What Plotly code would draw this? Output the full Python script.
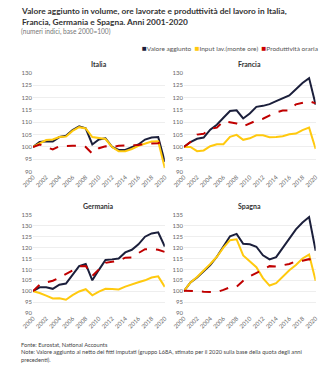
import plotly.graph_objects as go

years = list(range(2000, 2021))

it_va = [100, 102, 102.3, 102.2, 104, 104.5, 106.8, 108.3, 107.5, 101, 103, 103.5, 100, 98.8, 98.8, 99.8, 101, 103, 103.8, 104, 94]
it_in = [100, 101.5, 102.8, 103, 104, 104.2, 106.5, 108, 107.5, 104, 103.5, 103.2, 100, 98.3, 98.3, 99.2, 100.5, 101.5, 102.2, 102.3, 91.5]
it_pr = [100, 101, 100, 99, 100.3, 100.5, 100.5, 100.5, 100, 97.3, 99.5, 100.3, 99.8, 100.5, 100.5, 100.7, 100.8, 101.3, 101.3, 101.5, 102.8]

fr_va = [100, 102, 103.3, 103.8, 107, 109, 111.8, 114.5, 114.8, 111.5, 113.5, 116.2, 116.6, 117.3, 118.5, 119.7, 120.8, 123.3, 125.8, 127.8, 117]
fr_in = [100, 100, 98.3, 98.6, 100.3, 101.1, 101.1, 104.1, 104.9, 102.9, 103.5, 104.7, 104.7, 103.9, 104.0, 104.3, 105.1, 105.4, 106.8, 107.8, 99.2]
fr_pr = [100, 102, 105, 105.3, 107.3, 107.8, 110.4, 110, 109.5, 108.3, 109.6, 110.7, 111.4, 112.8, 114.0, 114.7, 114.8, 117.2, 117.9, 118.5, 117.6]

de_va = [100, 101.8, 101.8, 101.1, 103, 103.5, 107.5, 111.5, 112.5, 105, 109.8, 114.3, 114.6, 115, 117.8, 119, 121.5, 125, 126.5, 127, 120.5]
de_in = [100, 99.2, 98, 96.7, 96.8, 96.1, 98.2, 99.9, 100.9, 98.1, 99.8, 101.1, 101, 100.8, 102.1, 103.2, 104.1, 105, 106.3, 106.8, 102]
de_pr = [100, 103, 104, 104.8, 106.2, 107.8, 109.5, 111.4, 111.6, 107, 110, 113, 113.5, 114, 115.4, 115.5, 117.5, 119.3, 119.3, 119, 118]

es_va = [100, 104, 106.3, 109, 112, 115.8, 120.5, 125.2, 126.3, 121.8, 121.5, 120.4, 116.5, 114.6, 115.6, 120, 124, 128.4, 131.5, 134, 118.5]
es_in = [100, 104, 106.5, 109.3, 112.5, 115.8, 120, 123.4, 123.8, 116.4, 113.7, 111, 106, 102.6, 103.7, 106.8, 109.6, 112, 115, 116.8, 104.8]
es_pr = [100.2, 100.2, 100, 99.8, 99.6, 99.6, 100.6, 101.8, 102, 104.8, 106.8, 108.4, 110.2, 111.5, 111.3, 111.8, 112.5, 113.8, 114, 114.7, 113.5]

countries = ["Italia", "Francia", "Germania", "Spagna"]
series_names = ["Valore aggiunto", "Input lav.(monte ore)", "Produttività oraria"]
data = [(it_va, it_in, it_pr), (fr_va, fr_in, fr_pr), (de_va, de_in, de_pr), (es_va, es_in, es_pr)]
x_ticks = list(range(2000, 2021, 2))

NAVY = "#1b1f3b"
YELLOW = "#ffc90e"
RED = "#c00000"
colors = [NAVY, YELLOW, RED]
legend_colors = [NAVY, "#ffc90e", "#cc0000"]
dashes = ["solid", "solid", "dash"]

W, H = 333, 368
FONT = "Lato"

fig = go.Figure()
for i, (c, ser) in enumerate(zip(countries, data)):
    ax = "" if i == 0 else str(i + 1)
    for j, vals in enumerate(ser):
        fig.add_trace(go.Scatter(x=years, y=vals, mode="lines", name=series_names[j],
                                 line=dict(color=colors[j], width=2, dash=dashes[j]),
                                 xaxis="x" + ax, yaxis="y" + ax, showlegend=False,
                                 hoverinfo="skip"))

def px_x(p):
    return p / W

def px_y(p):
    return 1 - p / H

xdoms = [(22, 160), (180, 318), (22, 160), (180, 318)]
ydoms = [(70, 171), (70, 171), (215, 315), (215, 315)]
yranges = [(90, 130), (90, 130), (90, 135), (90, 135)]

tickfont = dict(family=FONT, size=6, color="#666666")
layout = dict(
    width=W, height=H, margin=dict(l=0, r=0, t=0, b=0),
    paper_bgcolor="white", plot_bgcolor="white",
    font=dict(family=FONT, color="#333333"),
    showlegend=False,
)
for i in range(4):
    ax = "" if i == 0 else str(i + 1)
    layout["xaxis" + ax] = dict(domain=[px_x(xdoms[i][0]), px_x(xdoms[i][1])],
                                range=[2000, 2020], tickvals=x_ticks, tickangle=-45,
                                tickfont=tickfont, showgrid=False, zeroline=False,
                                anchor="y" + ax, ticks="", showline=False, fixedrange=True)
    layout["yaxis" + ax] = dict(domain=[px_y(ydoms[i][1]), px_y(ydoms[i][0])],
                                range=list(yranges[i]), dtick=5,
                                tickfont=tickfont, showgrid=True, gridcolor="#eeeeee",
                                gridwidth=1, zeroline=False, anchor="x" + ax,
                                ticks="", showline=False, fixedrange=True)
fig.update_layout(**layout)

ann = []
for i, c in enumerate(countries):
    xc = (xdoms[i][0] + xdoms[i][1]) / 2
    ann.append(dict(text="<b>" + c + "</b>", x=px_x(xc), y=px_y(ydoms[i][0] - 9),
                    xref="paper", yref="paper", showarrow=False, xanchor="center",
                    yanchor="middle", font=dict(family=FONT, size=7, color="#333333")))

legend_txt = "&nbsp;&nbsp;".join(
    "<span style='color:%s;font-size:8px'>■</span>%s" % (col, n) for col, n in zip(legend_colors, series_names))
ann.append(dict(text=legend_txt, x=px_x(323), y=px_y(44.5), xref="paper", yref="paper",
                showarrow=False, xanchor="right", yanchor="middle",
                font=dict(family=FONT, size=6.5, color="#555555")))

ann.append(dict(text="<b>Valore aggiunto in volume, ore lavorate e produttività del lavoro in Italia,<br>Francia, Germania e Spagna. Anni 2001-2020</b>",
                x=px_x(7), y=px_y(0), xref="paper", yref="paper", showarrow=False,
                xanchor="left", yanchor="top", align="left",
                font=dict(family=FONT, size=8.3, color="#333333")))
ann.append(dict(text="(numeri indici, base 2000=100)", x=px_x(7), y=px_y(21),
                xref="paper", yref="paper", showarrow=False, xanchor="left", yanchor="top",
                align="left", font=dict(family=FONT, size=6.6, color="#777777")))
ann.append(dict(text="Fonte: Eurostat, National Accounts<br>Note: Valore aggiunto al netto dei fitti imputati (gruppo L68A, stimato per il 2020 sulla base della quota degli anni<br>precedenti).",
                x=px_x(7), y=px_y(341), xref="paper", yref="paper", showarrow=False,
                xanchor="left", yanchor="top", align="left",
                font=dict(family=FONT, size=5.7, color="#444444")))
fig.update_layout(annotations=ann)

fig.write_html("out.html")
